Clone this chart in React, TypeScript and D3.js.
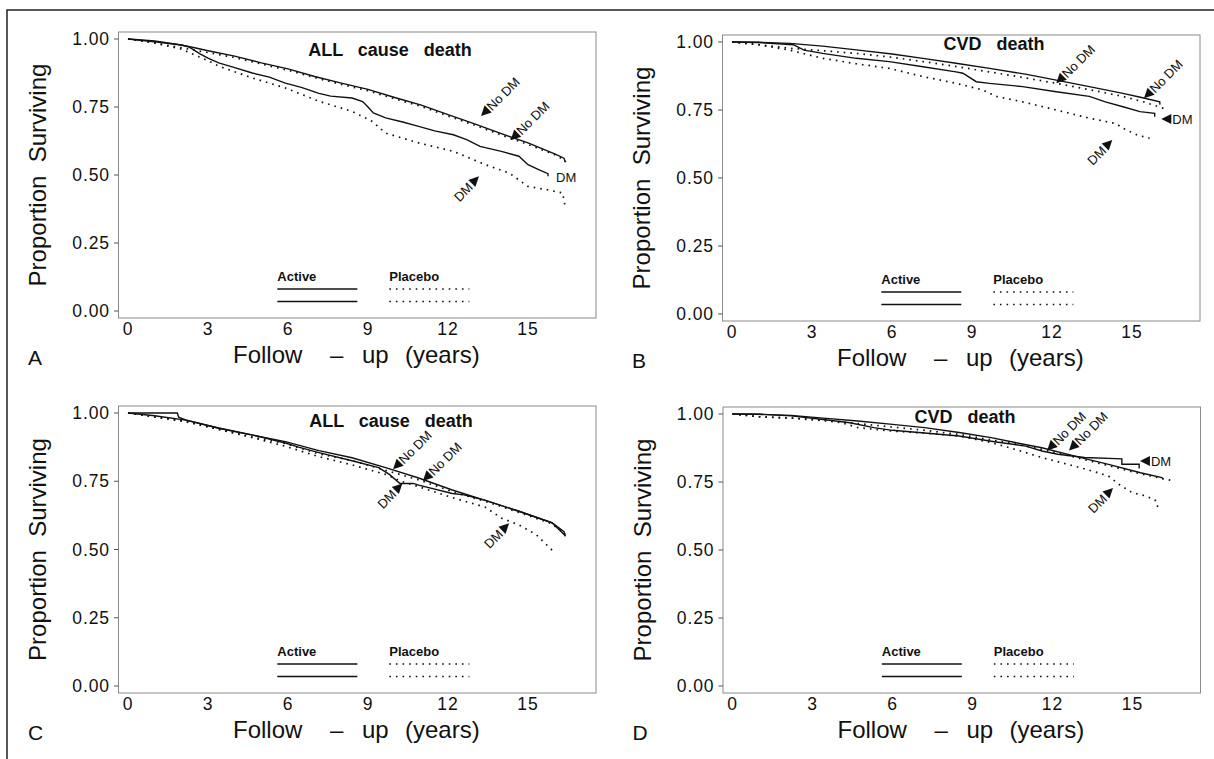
import React from "react";
import * as d3 from "d3";

type Pt = [number, number];

// ---------- DATA (years, proportion surviving) ----------
const xTicks = [0, 3, 6, 9, 12, 15];
const yTicks = [0, 0.25, 0.5, 0.75, 1];

// Panel A – all cause death
const A_activeNoDM: Pt[] = [[0,1],[1,0.993],[2,0.978],[2.5,0.968],[3,0.957],[4,0.937],[5,0.912],[6,0.89],[7,0.862],[8,0.838],[9,0.815],[10,0.785],[11,0.757],[12,0.722],[13,0.688],[14,0.652],[15,0.618],[16,0.578],[16.35,0.562],[16.4,0.548]];
const A_placeboNoDM: Pt[] = [[0,1],[0.5,0.993],[1,0.985],[2,0.968],[3,0.95],[4,0.932],[5,0.908],[6,0.885],[7,0.858],[8,0.833],[9,0.81],[10,0.78],[11,0.752],[12,0.717],[13,0.683],[14,0.647],[15,0.612],[16,0.575],[16.4,0.553],[16.4,0.545]];
const A_activeDM: Pt[] = [[0,1],[1,0.99],[2,0.978],[2.3,0.97],[2.7,0.945],[3,0.93],[3.4,0.912],[4,0.895],[4.66,0.875],[5.3,0.86],[5.9,0.838],[6.5,0.822],[7.16,0.8],[7.6,0.79],[8.4,0.783],[8.8,0.77],[9,0.75],[9.2,0.728],[9.66,0.71],[10.3,0.695],[10.9,0.679],[11.5,0.662],[12.2,0.648],[12.7,0.63],[13.2,0.605],[14,0.587],[14.66,0.569],[15,0.538],[15.4,0.52],[15.75,0.505],[15.75,0.495]];
const A_placeboDM: Pt[] = [[0,1],[1,0.985],[2,0.963],[3,0.92],[3.4,0.9],[4.66,0.857],[5.9,0.82],[7.16,0.771],[8.4,0.734],[9.16,0.697],[9.66,0.654],[10.9,0.618],[12.2,0.587],[13.4,0.538],[14.3,0.507],[15,0.458],[15.7,0.446],[16.3,0.434],[16.4,0.38]];

// Panel B – CVD death
const B_activeNoDM: Pt[] = [[0,1],[1,0.999],[2.16,0.995],[3.4,0.985],[4.66,0.971],[6,0.956],[7.16,0.94],[8.4,0.922],[9.66,0.903],[11,0.882],[12.16,0.86],[13.4,0.836],[14.66,0.811],[15.4,0.795],[16.04,0.78],[16.05,0.77]];
const B_placeboNoDM: Pt[] = [[0,1],[1,0.99],[2.16,0.977],[3.4,0.968],[4.66,0.958],[6,0.944],[7.16,0.928],[8.4,0.91],[9.66,0.89],[11,0.868],[12.16,0.848],[13.4,0.825],[14.66,0.8],[15.5,0.778],[16.3,0.752]];
const B_activeDM: Pt[] = [[0,1],[1,0.998],[2.3,0.99],[2.7,0.97],[3.4,0.958],[4.66,0.94],[5.9,0.928],[7.16,0.909],[8.4,0.89],[8.66,0.885],[9.16,0.854],[9.66,0.848],[10.9,0.836],[12.16,0.817],[13.4,0.8],[14,0.78],[14.66,0.762],[15.3,0.744],[15.85,0.738],[15.85,0.725]];
const B_placeboDM: Pt[] = [[0,1],[1,0.99],[2.16,0.97],[3.4,0.94],[4.66,0.92],[5.9,0.903],[7.16,0.873],[8.4,0.848],[9.4,0.824],[9.9,0.8],[10.9,0.78],[12.16,0.75],[13.4,0.72],[14.4,0.7],[14.66,0.683],[15.2,0.658],[15.66,0.646]];

// Panel C – all cause death
const C_activeNoDM: Pt[] = [[0,1],[1,0.99],[2.16,0.974],[3.4,0.944],[4.66,0.919],[5.9,0.895],[7.16,0.862],[8.4,0.836],[9.66,0.8],[10.9,0.762],[12.16,0.718],[13.4,0.68],[14.66,0.64],[15.9,0.598],[16.35,0.565],[16.4,0.548]];
const C_placeboNoDM: Pt[] = [[0,1],[1,0.985],[2.16,0.968],[3.4,0.94],[4.66,0.912],[5.9,0.888],[7.16,0.85],[8.4,0.826],[9.66,0.79],[10.9,0.755],[12.16,0.712],[13.4,0.676],[14.66,0.636],[15.9,0.594],[16.4,0.555]];
const C_activeDM: Pt[] = [[0,1],[1.85,1],[1.9,0.985],[2.16,0.975],[3.4,0.945],[4.66,0.92],[5.9,0.89],[6.4,0.875],[7.16,0.855],[8.4,0.825],[9.4,0.8],[9.8,0.775],[10.2,0.742],[10.7,0.742],[10.9,0.736],[12.16,0.705],[12.6,0.7],[13.4,0.68],[14.66,0.64],[15.9,0.598],[16.4,0.55]];
const C_placeboDM: Pt[] = [[0,1],[1,0.985],[2.16,0.97],[3.4,0.94],[4.66,0.91],[5.9,0.878],[7.16,0.84],[8.4,0.81],[9.66,0.775],[10.3,0.748],[10.9,0.73],[12.16,0.69],[13.4,0.655],[14,0.615],[14.66,0.59],[15.3,0.555],[15.9,0.498]];

// Panel D – CVD death
const D_activeNoDM: Pt[] = [[0,1],[1,0.999],[2.2,0.995],[3.4,0.985],[4.7,0.974],[6,0.962],[7.2,0.95],[8.5,0.932],[9.7,0.913],[10.6,0.895],[11.6,0.876],[12.8,0.846],[14.1,0.815],[15.3,0.784],[16.1,0.766],[16.15,0.76]];
const D_placeboNoDM: Pt[] = [[0,1],[1,0.99],[2.2,0.985],[3.4,0.978],[4.7,0.965],[6,0.952],[7.2,0.94],[8.5,0.925],[9.7,0.905],[10.6,0.89],[11.6,0.87],[12.8,0.842],[14.1,0.81],[15.3,0.78],[16.5,0.755]];
const D_activeDM: Pt[] = [[0,1],[1,0.999],[2.2,0.993],[3.4,0.98],[4.4,0.968],[5.3,0.95],[6,0.94],[7.2,0.93],[8.5,0.919],[9.7,0.9],[11,0.882],[11.6,0.864],[12.2,0.852],[13.2,0.84],[14.6,0.835],[14.6,0.815],[15.25,0.815],[15.25,0.8]];
const D_placeboDM: Pt[] = [[0,1],[1,0.99],[2.2,0.985],[3.5,0.975],[4.1,0.968],[4.7,0.95],[6,0.937],[7.2,0.93],[8.5,0.919],[9.7,0.895],[10.6,0.87],[11.6,0.84],[12.8,0.809],[13.5,0.79],[14.1,0.772],[14.5,0.741],[15,0.71],[15.5,0.699],[15.9,0.68],[15.95,0.655]];

// Annotation anchor points (data coordinates)
const A_noDMArrows: Pt[] = [[13.24, 0.717], [14.35, 0.628]];
const A_dmArrows: Pt[] = [[13.16, 0.495]];
const B_noDMArrows: Pt[] = [[12.16, 0.848], [15.45, 0.793]];
const B_dmArrows: Pt[] = [[14.26, 0.64]];
const C_noDMArrows: Pt[] = [[9.94, 0.794], [11.06, 0.751]];
const C_dmArrows: Pt[] = [[10.29, 0.742], [14.29, 0.596]];
const D_noDMArrows: Pt[] = [[11.8, 0.866], [12.62, 0.866]];
const D_dmArrows: Pt[] = [[14.27, 0.728]];

// ---------- LAYOUT ----------
const FONT = "'Liberation Sans', Arial, Helvetica, sans-serif";

type PanelCfg = {
  letter: string;
  title: string;
  x0: number; y1: number; y0: number;
  titleDx: number; titleDy: number;
  activeNoDM: Pt[]; placeboNoDM: Pt[]; activeDM: Pt[]; placeboDM: Pt[];
  noDM: Pt[]; dm: Pt[];
  dmLabel?: { at: Pt; arrow: boolean };
};

const panels: PanelCfg[] = [
  { letter: "A", title: "ALL   cause   death", x0: 128, y1: 39, y0: 311, titleDx: 262, titleDy: 17,
    activeNoDM: A_activeNoDM, placeboNoDM: A_placeboNoDM, activeDM: A_activeDM, placeboDM: A_placeboDM,
    noDM: A_noDMArrows, dm: A_dmArrows, dmLabel: { at: [16.05, 0.49], arrow: false } },
  { letter: "B", title: "CVD   death", x0: 732, y1: 42, y0: 314, titleDx: 262, titleDy: 8,
    activeNoDM: B_activeNoDM, placeboNoDM: B_placeboNoDM, activeDM: B_activeDM, placeboDM: B_placeboDM,
    noDM: B_noDMArrows, dm: B_dmArrows, dmLabel: { at: [16.1, 0.717], arrow: true } },
  { letter: "C", title: "ALL   cause   death", x0: 128, y1: 413, y0: 686, titleDx: 263, titleDy: 14,
    activeNoDM: C_activeNoDM, placeboNoDM: C_placeboNoDM, activeDM: C_activeDM, placeboDM: C_placeboDM,
    noDM: C_noDMArrows, dm: C_dmArrows },
  { letter: "D", title: "CVD   death", x0: 732.5, y1: 414, y0: 686, titleDx: 232.5, titleDy: 9,
    activeNoDM: D_activeNoDM, placeboNoDM: D_placeboNoDM, activeDM: D_activeDM, placeboDM: D_placeboDM,
    noDM: D_noDMArrows, dm: D_dmArrows, dmLabel: { at: [15.28, 0.827], arrow: true } },
];

const DOT = "1.6 5";

function Panel({ p }: { p: PanelCfg }) {
  const x = d3.scaleLinear().domain([0, 15]).range([p.x0, p.x0 + 400]);
  const y = d3.scaleLinear().domain([0, 1]).range([p.y0, p.y1]);
  const line = d3.line<Pt>().x((d) => x(d[0])).y((d) => y(d[1]));
  const fmt = d3.format(".2f");
  const boxL = p.x0 - 9.5;
  const boxR = p.x0 + 468;
  const boxT = p.y1 - 7;
  const boxB = p.y0 + 7;

  const solid = { fill: "none", stroke: "#111", strokeWidth: 1.4 };
  const dotted = { fill: "none", stroke: "#111", strokeWidth: 1.7, strokeDasharray: DOT };

  return (
    <g fontFamily={FONT}>
      <rect x={boxL} y={boxT} width={boxR - boxL} height={boxB - boxT} fill="none" stroke="#8a8a8a" strokeWidth={1} />
      {yTicks.map((t) => (
        <g key={t}>
          <line x1={boxL - 4.5} x2={boxL} y1={y(t)} y2={y(t)} stroke="#555" strokeWidth={1} />
          <text x={boxL - 8.5} y={y(t) + 6} textAnchor="end" fontSize={17.5} letterSpacing={0.9} fill="#111">{fmt(t)}</text>
        </g>
      ))}
      {xTicks.map((t) => (
        <text key={t} x={x(t)} y={p.y0 + 24} textAnchor="middle" fontSize={17.5} letterSpacing={0.9} fill="#111">{t}</text>
      ))}
      <text transform={`translate(${p.x0 - 82},${(p.y0 + p.y1) / 2}) rotate(-90)`} textAnchor="middle" fontSize={24} fill="#111" style={{ whiteSpace: "pre" }}>{"Proportion  Surviving"}</text>
      <text y={p.y0 + 52} fontSize={24} fill="#111">
        <tspan x={p.x0 + 105}>Follow</tspan>
        <tspan x={p.x0 + 202}>–</tspan>
        <tspan x={p.x0 + 234}>up</tspan>
        <tspan x={p.x0 + 277}>(years)</tspan>
      </text>
      <text x={p.x0 - 100} y={p.y0 + 54} fontSize={21} fill="#111">{p.letter}</text>
      <text x={p.x0 + p.titleDx} y={p.y1 + p.titleDy} textAnchor="middle" fontSize={18} fontWeight="bold" fill="#111" style={{ whiteSpace: "pre" }}>{p.title}</text>

      {/* curves */}
      <path d={line(p.placeboNoDM) || ""} {...dotted} />
      <path d={line(p.placeboDM) || ""} {...dotted} />
      <path d={line(p.activeNoDM) || ""} {...solid} />
      <path d={line(p.activeDM) || ""} {...solid} />

      {/* legend */}
      <text x={x(5.6)} y={p.y0 - 30} fontSize={13} fontWeight="bold" fill="#111">Active</text>
      <text x={x(9.8)} y={p.y0 - 30} fontSize={13} fontWeight="bold" fill="#111">Placebo</text>
      {[22, 9.5].map((dy) => (
        <g key={dy}>
          <line x1={x(5.6)} x2={x(8.6)} y1={p.y0 - dy} y2={p.y0 - dy} stroke="#111" strokeWidth={1.4} />
          <line x1={x(9.8)} x2={x(12.8)} y1={p.y0 - dy} y2={p.y0 - dy} stroke="#111" strokeWidth={1.7} strokeDasharray={DOT} />
        </g>
      ))}

      {/* annotations */}
      {p.noDM.map((a, i) => (
        <g key={"n" + i} transform={`translate(${x(a[0])},${y(a[1])}) rotate(-45)`}>
          <path d="M0,0 L10,-5 L10,5 Z" fill="#111" />
          <text x={11} y={4.6} fontSize={13} fill="#111">No DM</text>
        </g>
      ))}
      {p.dm.map((a, i) => (
        <g key={"d" + i} transform={`translate(${x(a[0])},${y(a[1])}) rotate(-45)`}>
          <path d="M0,0 L-10,-5 L-10,5 Z" fill="#111" />
          <text x={-12} y={4.6} textAnchor="end" fontSize={13} fill="#111">DM</text>
        </g>
      ))}
      {p.dmLabel && (
        <g transform={`translate(${x(p.dmLabel.at[0])},${y(p.dmLabel.at[1])})`}>
          {p.dmLabel.arrow && <path d="M0,0 L10,-5 L10,5 Z" fill="#111" />}
          <text x={p.dmLabel.arrow ? 11 : 0} y={4.6} fontSize={13} fill="#111">DM</text>
        </g>
      )}
    </g>
  );
}

export default function App() {
  return (
    <svg width={1214} height={759} style={{ position: "absolute", left: 0, top: 0, background: "#fff" }}>
      <rect width={1214} height={759} fill="#fff" />
      <path d="M7,759 L7,10 L1214,10" fill="none" stroke="#222" strokeWidth={1.5} />
      {panels.map((p) => (
        <Panel key={p.letter} p={p} />
      ))}
    </svg>
  );
}
